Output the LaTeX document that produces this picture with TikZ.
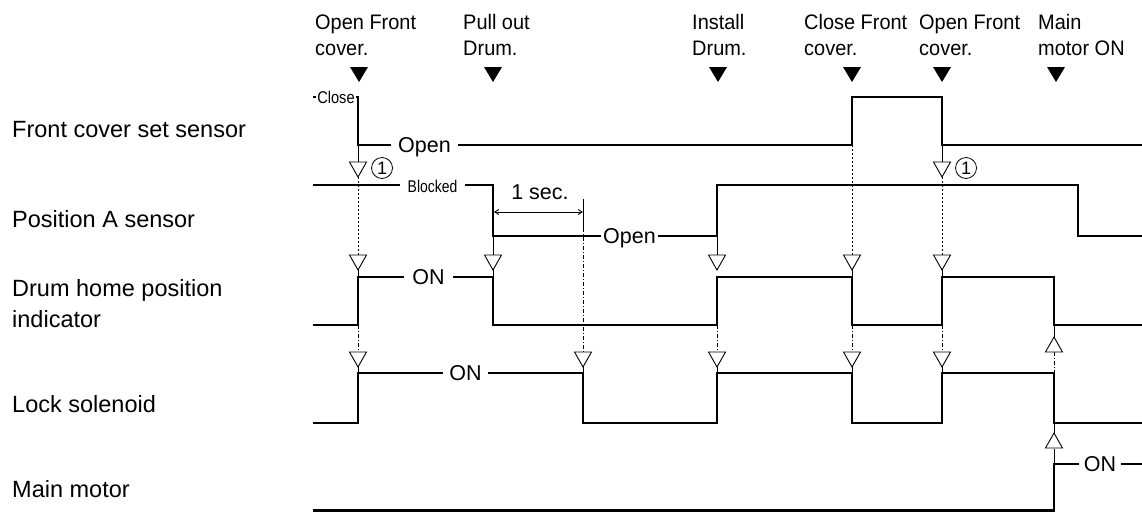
\documentclass[tikz,border=0pt]{standalone}
\usepackage{fontspec}
\setmainfont{Liberation Sans}
\usetikzlibrary{arrows.meta}
\begin{document}
\begin{tikzpicture}[x=1pt,y=-1pt,
  sig/.style={line width=2.4pt, line join=miter},
  thinl/.style={line width=0.9pt},
  dotl/.style={line width=0.9pt, dash pattern=on 1.5pt off 2.5pt},
  dashdotl/.style={line width=0.9pt, dash pattern=on 4pt off 2pt on 1pt off 2pt},
  lbl/.style={anchor=base west, inner sep=0pt, font=\fontsize{23.5}{31}\selectfont, align=left},
  toplbl/.style={anchor=base west, inner sep=0pt, font=\fontsize{21}{26}\selectfont, align=left},
  wlbl/.style={fill=white, inner ysep=0pt, text height=15pt, text depth=0pt, font=\fontsize{21.5}{24}\selectfont},
  smalllbl/.style={fill=white, inner ysep=0pt, text height=12pt, text depth=0pt, font=\fontsize{17}{18}\selectfont},
  circ/.style={circle, draw, line width=0.8pt, minimum size=21pt, inner sep=0pt, font=\fontsize{18}{18}\selectfont},
  evt/.pic={\fill (-9,-15) -- (9,-15) -- (0,0) -- cycle;},
  odn/.pic={\draw[line width=0.9pt, fill=white] (-8.5,-15) -- (8.5,-15) -- (0,0) -- cycle;},
  oup/.pic={\draw[line width=0.9pt, fill=white] (-8.5,15) -- (8.5,15) -- (0,0) -- cycle;},
]
\useasboundingbox (0,0) rectangle (1142,512);

% left labels
\node[lbl] (l1) at (12,137) {Front cover set sensor};
\node[lbl] (l2) at (12,227) {Position A sensor};
\node[lbl] (l3) at (12,327) {Drum home position\\indicator};
\node[lbl] (l4) at (12,412) {Lock solenoid};
\node[lbl] (l5) at (12,497) {Main motor};

% top labels (base = last line)
\node[toplbl] (t1) at (315,55) {\scalebox{0.95}[1]{Open Front}\\\scalebox{0.95}[1]{cover.}};
\node[toplbl] (t2) at (463,55) {\scalebox{0.95}[1]{Pull out}\\\scalebox{0.95}[1]{Drum.}};
\node[toplbl] (t3) at (692,55) {\scalebox{0.95}[1]{Install}\\\scalebox{0.95}[1]{Drum.}};
\node[toplbl] (t4) at (804,55) {\scalebox{0.95}[1]{Close Front}\\\scalebox{0.95}[1]{cover.}};
\node[toplbl] (t5) at (919,55) {\scalebox{0.95}[1]{Open Front}\\\scalebox{0.95}[1]{cover.}};
\node[toplbl] (t6) at (1038,55) {\scalebox{0.95}[1]{Main}\\\scalebox{0.95}[1]{motor ON}};

% event markers
\pic at (359,82) {evt};
\pic at (493,82) {evt};
\pic at (718,82) {evt};
\pic at (852,82) {evt};
\pic at (942,82) {evt};
\pic at (1056,82) {evt};

% thin connectors
% x=358
\draw[thinl] (358,145) -- (358,162);
\draw[dotl] (358,177) -- (358,255);
\draw[thinl] (358,270) -- (358,277);
\draw[dashdotl] (358,325) -- (358,352);
\draw[thinl] (358,367) -- (358,373);
% x=493
\draw[thinl] (493,236) -- (493,270);
\draw[thinl] (493,270) -- (493,277);
% x=583
\draw[thinl] (583,199) -- (583,228);
\draw[dashdotl] (583,228) -- (583,352);
\draw[thinl] (583,367) -- (583,373);
% x=717
\draw[thinl] (717,236) -- (717,270);
\draw[dashdotl] (717,325) -- (717,352);
\draw[thinl] (717,367) -- (717,373);
% x=852
\draw[dotl] (852,145) -- (852,255);
\draw[thinl] (852,270) -- (852,277);
\draw[dashdotl] (852,325) -- (852,352);
\draw[thinl] (852,367) -- (852,373);
% x=942
\draw[thinl] (942,145) -- (942,162);
\draw[dotl] (942,177) -- (942,255);
\draw[thinl] (942,270) -- (942,277);
\draw[dashdotl] (942,325) -- (942,352);
\draw[thinl] (942,367) -- (942,373);
% x=1054
\draw[thinl] (1054,325) -- (1054,337);
\draw[dashdotl] (1054,352) -- (1054,373);
\draw[thinl] (1054,423) -- (1054,433);
\draw[thinl] (1054,449) -- (1054,464);

% 1 sec dimension
\draw[thinl, {Straight Barb[length=4pt,width=5pt]}-{Straight Barb[length=4pt,width=5pt]}] (494,212) -- (583,212);
\node[anchor=base, inner sep=0pt, font=\fontsize{21.5}{24}\selectfont] (onesec) at (540,199) {1 sec.};

% waveforms
\draw[sig] (313,97) -- (358,97) -- (358,145) -- (852,145) -- (852,97) -- (942,97) -- (942,145) -- (1142,145);
\draw[sig] (313,185) -- (493,185) -- (493,236) -- (717,236) -- (717,185) -- (1078,185) -- (1078,236) -- (1142,236);
\draw[sig] (313,325) -- (358,325) -- (358,277) -- (493,277) -- (493,325) -- (717,325) -- (717,277) -- (852,277) -- (852,325) -- (942,325) -- (942,277) -- (1054,277) -- (1054,325) -- (1142,325);
\draw[sig] (313,423) -- (358,423) -- (358,373) -- (583,373) -- (583,423) -- (717,423) -- (717,373) -- (852,373) -- (852,423) -- (942,423) -- (942,373) -- (1054,373) -- (1054,423) -- (1142,423);
\draw[sig] (313,510.5) -- (1054,510.5) -- (1054,464) -- (1142,464);

% open triangles
\pic at (358,177) {odn};
\pic at (942,177) {odn};
\pic at (358,270) {odn};
\pic at (493,270) {odn};
\pic at (717,270) {odn};
\pic at (852,270) {odn};
\pic at (942,270) {odn};
\pic at (358,367) {odn};
\pic at (583,367) {odn};
\pic at (717,367) {odn};
\pic at (852,367) {odn};
\pic at (942,367) {odn};
\pic at (1054,337) {oup};
\pic at (1054,433) {oup};

\node[circ] (c1) at (382,168) {1};
\node[circ] (c2) at (966,168) {1};

% state labels on the lines
\node[smalllbl, inner xsep=1pt] (close) at (336,97.5) {\scalebox{0.86}[1]{Close}};
\node[wlbl, inner xsep=7pt] (fopen) at (424.5,145) {Open};
\node[smalllbl, inner xsep=8pt] (blocked) at (432.5,186) {\scalebox{0.82}[1]{Blocked}};
\node[wlbl, inner xsep=2pt] (popen) at (629.5,236) {Open};
\node[wlbl, inner xsep=8pt] (dhon) at (428.5,277) {ON};
\node[wlbl, inner xsep=6pt] (lson) at (465.5,373) {ON};
\node[wlbl, inner xsep=5pt] (mmon) at (1100,464) {ON};
\end{tikzpicture}
\end{document}
